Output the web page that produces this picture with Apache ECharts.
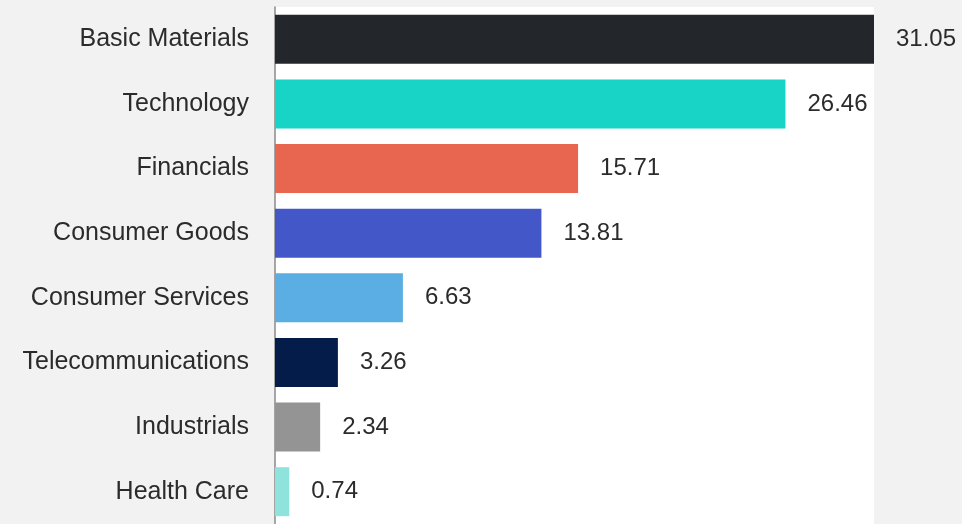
<!DOCTYPE html>
<html>
<head>
<meta charset="utf-8">
<script src="https://cdn.jsdelivr.net/npm/echarts@6/dist/echarts.min.js"></script>
<style>
  html, body { margin: 0; padding: 0; background: #f2f2f2; }
  #chart { width: 962px; height: 524px; }
</style>
</head>
<body>
<div id="chart"></div>
<script>
const categories = ['Basic Materials', 'Technology', 'Financials', 'Consumer Goods',
  'Consumer Services', 'Telecommunications', 'Industrials', 'Health Care'];
const values = [31.05, 26.46, 15.71, 13.81, 6.63, 3.26, 2.34, 0.74];
const colors = ['#23272b', '#17d4c6', '#e8654f', '#4357c9', '#5aaee3', '#031c4a', '#949494', '#8ee3dc'];

(function(){
  const chart = echarts.init(document.getElementById('chart'));
  chart.setOption({
    backgroundColor: '#f2f2f2',
    animation: false,
    grid: {
      left: 275, right: 88, top: 7, bottom: 0,
      show: true, backgroundColor: '#ffffff', borderWidth: 0
    },
    xAxis: {
      type: 'value',
      min: 0,
      max: 31.05,
      show: false
    },
    yAxis: {
      type: 'category',
      data: categories,
      inverse: true,
      axisLine: { show: true, lineStyle: { color: '#8a8a8a', width: 1.5 } },
      axisTick: { show: false },
      axisLabel: {
        margin: 26,
        color: '#2b2b2b',
        fontSize: 25,
        fontFamily: 'Liberation Sans, Arial, sans-serif'
      }
    },
    series: [{
      type: 'bar',
      data: values.map((v, i) => ({ value: v, itemStyle: { color: colors[i] } })),
      barWidth: 49,
      label: {
        show: true,
        position: 'right',
        distance: 22,
        color: '#2b2b2b',
        fontSize: 24,
        fontFamily: 'Liberation Sans, Arial, sans-serif',
        formatter: p => p.value.toFixed(2)
      }
    }]
  });
})();
</script>
</body>
</html>
